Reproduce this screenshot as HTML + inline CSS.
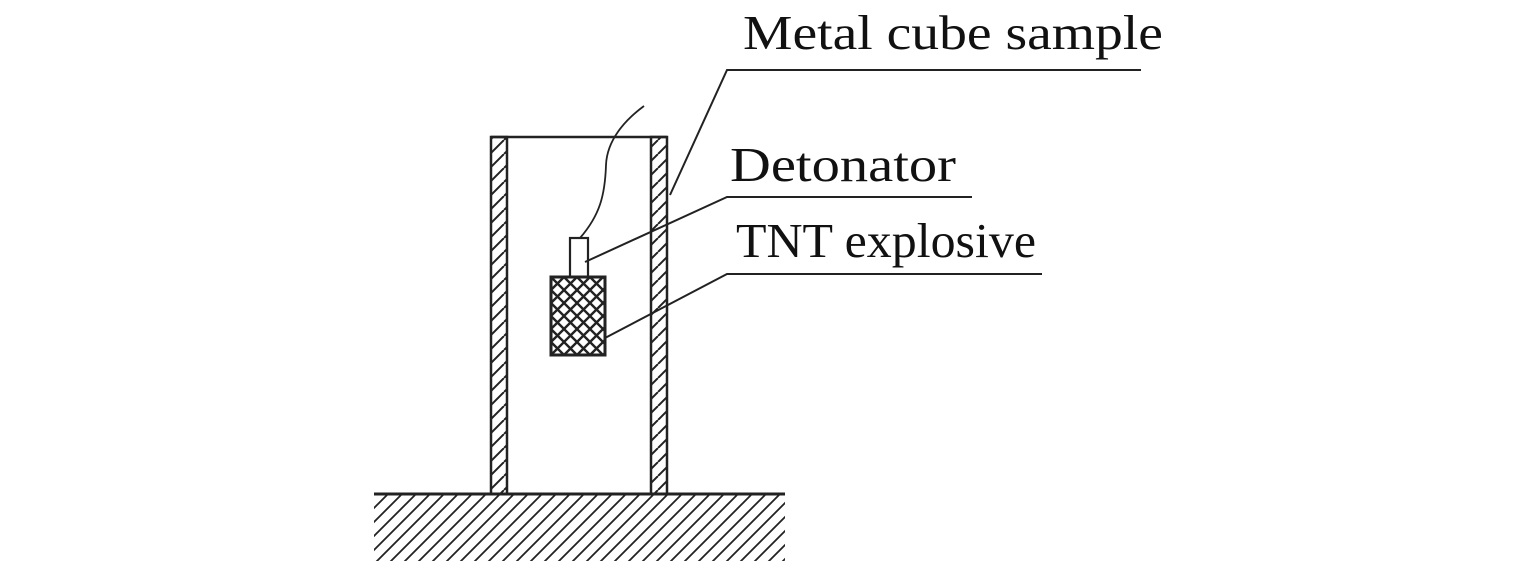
<!DOCTYPE html>
<html><head><style>html,body{margin:0;padding:0;background:#fff}svg{display:block}</style></head>
<body>
<svg width="1535" height="561" viewBox="0 0 1535 561" xmlns="http://www.w3.org/2000/svg">
<defs>
<pattern id="h" patternUnits="userSpaceOnUse" width="14" height="14">
<path d="M-2,16 L16,-2 M-16,16 L2,-2 M12,16 L30,-2" stroke="#222" stroke-width="1.8"/>
</pattern>
<pattern id="w" patternUnits="userSpaceOnUse" width="14" height="14">
<path d="M0,14 L14,0 M-14,14 L0,0 M14,14 L28,0" stroke="#222" stroke-width="2"/>
</pattern>
<pattern id="x" patternUnits="userSpaceOnUse" width="13" height="13" x="551" y="277">
<path d="M0,0 L13,13 M0,13 L13,0" stroke="#222" stroke-width="2.4"/>
</pattern>
</defs>
<g fill="none" stroke="#222" stroke-width="2.2">
<rect x="374" y="494" width="411" height="67" fill="url(#h)" stroke="none"/>
<line x1="374" y1="494" x2="785" y2="494" stroke-width="3"/>
<rect x="491" y="137" width="16" height="357" fill="url(#w)" stroke-width="2.5"/>
<rect x="651" y="137" width="16" height="357" fill="url(#w)" stroke-width="2.5"/>
<line x1="491" y1="137" x2="667" y2="137" stroke-width="2.5"/>
<rect x="570" y="238" width="18" height="39" fill="#fff"/>
<rect x="551" y="277" width="54" height="78" fill="url(#x)" stroke-width="3"/>
<path d="M580,238 C600,215 605,195 606,165 C607,140 625,120 644,106" stroke-width="1.8"/>
<polyline points="670,195 727,70 1141,70" stroke-width="2"/>
<polyline points="585,262 727,197 972,197" stroke-width="2"/>
<polyline points="605,338 727,274 1042,274" stroke-width="2"/>
</g>
<g font-family="Liberation Serif, serif" font-size="49" fill="#111">
<text x="743" y="49" textLength="420" lengthAdjust="spacingAndGlyphs">Metal cube sample</text>
<text x="730" y="181" textLength="226" lengthAdjust="spacingAndGlyphs">Detonator</text>
<text x="736" y="257" textLength="300" lengthAdjust="spacingAndGlyphs">TNT explosive</text>
</g>
</svg>
</body></html>
